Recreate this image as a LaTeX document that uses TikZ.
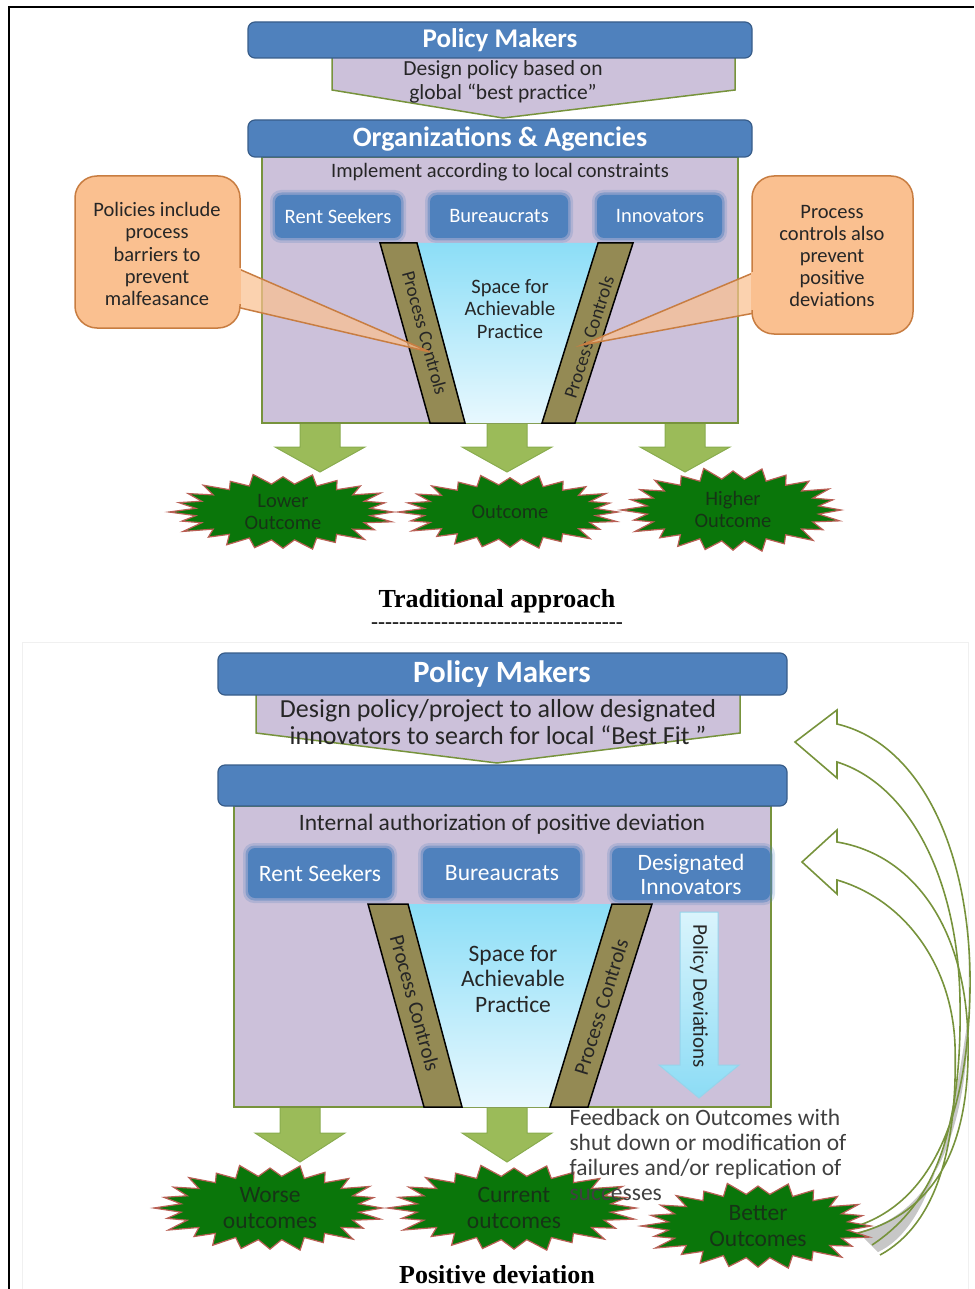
\documentclass[tikz,border=0pt]{standalone}
\usepackage{fontspec}
\setmainfont{Carlito}
\newfontfamily\titlefont{Liberation Serif}
\usetikzlibrary{calc}

\definecolor{barblue}{RGB}{79,129,189}
\definecolor{barline}{RGB}{56,93,138}
\definecolor{lav}{RGB}{204,193,218}
\definecolor{olivegreen}{RGB}{119,147,60}
\definecolor{arrowgreen}{RGB}{155,187,89}
\definecolor{arrowline}{RGB}{137,172,78}
\definecolor{bandolive}{RGB}{148,138,84}
\definecolor{peach}{RGB}{250,192,144}
\definecolor{peachline}{RGB}{200,125,65}
\definecolor{burstgreen}{RGB}{10,118,10}
\definecolor{bursthalo}{RGB}{185,95,85}
\definecolor{bursttext}{RGB}{22,52,22}
\definecolor{txt}{RGB}{38,38,38}
\definecolor{skytop}{RGB}{140,222,247}
\definecolor{skybot}{RGB}{232,248,254}
\definecolor{devtop}{RGB}{218,244,252}
\definecolor{devbot}{RGB}{140,220,245}
\definecolor{devline}{RGB}{150,212,235}

% font size with its own line distance
\newcommand{\fsz}[2]{\fontsize{#1}{#2}\selectfont}

% blurred blue actor box: x1 y1 x2 y2
\newcommand{\softbox}[4]{%
  \fill[barblue, opacity=0.22, rounded corners=11] (#1-5,#2-5) rectangle (#3+5,#4+5);
  \fill[barblue, opacity=0.45, rounded corners=9] (#1-2.5,#2-2.5) rectangle (#3+2.5,#4+2.5);
  \fill[barblue, rounded corners=7] (#1,#2) rectangle (#3,#4);}

% fat green arrow: centre x, top y, head y, tip y
\newcommand{\fatarrow}[4]{%
  \filldraw[garrow] (#1-20,#2) -- (#1-20,#3) -- (#1-45,#3) -- (#1,#4)
    -- (#1+45,#3) -- (#1+20,#3) -- (#1+20,#2) -- cycle;}

% outcome starburst: centre x, centre y, radius x, radius y
\newcommand{\starblob}[4]{%
  \filldraw[burst] ({#1+#3},{#2})
    \foreach \k in {1,...,47}{
      -- ({#1+#3*ifthenelse(mod(\k,2)==0, 1+0.05*sin(\k*77), 0.80)*cos(\k*7.5)},
          {#2+#4*ifthenelse(mod(\k,2)==0, 1+0.05*sin(\k*77), 0.76)*sin(\k*7.5)})
    } -- cycle;}

\tikzset{
  bar/.style={fill=barblue, draw=barline, line width=1.2, rounded corners=7},
  chev/.style={fill=lav, draw=olivegreen, line width=1.5},
  stage/.style={fill=lav, draw=olivegreen, line width=2.5},
  band/.style={fill=bandolive, draw=black, line width=1.5},
  garrow/.style={fill=arrowgreen, draw=arrowline, line width=1},
  burst/.style={fill=burstgreen, draw=bursthalo, line width=1.2},
  callout/.style={fill=peach, draw=peachline, line width=1.5, rounded corners=22},
  wedge/.style={fill=peach, fill opacity=0.72, draw=peachline, line width=1.5},
  bartext/.style={text=white, font=\bfseries},
  label/.style={text=txt, align=center},
  actor/.style={text=white, align=center},
  ctrl/.style={text=black!85},
  bursttxt/.style={text=bursttext, align=center},
  feedarrow/.style={draw=olivegreen, line width=1.6},
}

\begin{document}
\begin{tikzpicture}[x=1pt,y=-1pt]
\useasboundingbox (0,0) rectangle (974,1289);

% page frame
\draw[line width=2.5] (9,1289) -- (9,7) -- (974,7);
% faint frame round the lower panel
\draw[black!6, line width=1] (22,1289) -- (22,642) -- (968,642) -- (968,1289);

%================ Traditional approach ================
\filldraw[chev] (332,58) -- (332,90) -- (503,118) -- (735,90) -- (735,58);
\draw[bar] (248,22) rectangle (752,58);
\node[bartext, font=\bfseries\fsz{27}{30}] (pm1) at (500,40) {Policy Makers};
\node[label, font=\fsz{21.5}{24}] (design1) at (503,82)
  {Design policy based on\\global “best practice”};

\fatarrow{320}{423}{447}{472}
\fatarrow{507}{423}{447}{472}
\fatarrow{685}{423}{447}{472}

\filldraw[stage] (262,157) rectangle (738,423);
\draw[bar] (248,120) rectangle (752,157);
\node[bartext, font=\bfseries\fsz{28}{30}] (org1) at (500,139) {Organizations \& Agencies};
\node[label, font=\fsz{20.5}{22}] (impl1) at (500,172) {Implement according to local constraints};

\softbox{275}{195}{401}{238}
\softbox{430}{195}{568}{238}
\softbox{597}{195}{722}{238}
\node[actor, font=\fsz{20.5}{22}] (rent1) at (338,216) {Rent Seekers};
\node[actor, font=\fsz{20.5}{22}] (bur1) at (499,216) {Bureaucrats};
\node[actor, font=\fsz{20.5}{22}] (inn1) at (660,216) {Innovators};

\shade[top color=skytop, bottom color=skybot] (417,243) -- (598,243) -- (542,423) -- (465,423) -- cycle;
\filldraw[band] (380,243) -- (417,243) -- (465,423) -- (430,423) -- cycle;
\filldraw[band] (598,243) -- (633,243) -- (575,423) -- (542,423) -- cycle;
\node[ctrl, font=\fsz{19}{20}, rotate=-74.7] (pcl1) at (425,333) {Process Controls};
\node[ctrl, font=\fsz{19}{20}, rotate=72.3] (pcr1) at (589,337) {Process Controls};
\node[label, font=\fsz{20.5}{22.5}] (space1) at (510,309)
  {Space for\\Achievable\\Practice};

% callouts
\filldraw[wedge] (232,266) -- (430,352) -- (232,306);
\filldraw[callout] (75,176) rectangle (240,328);
\draw[peach, line width=2.2] (240,268) -- (240,304);
\node[label, font=\fsz{20.5}{22.3}] (note1) at (157,254)
  {Policies include\\process\\barriers to\\prevent\\malfeasance};

\filldraw[wedge] (760,270) -- (582,345) -- (760,312);
\filldraw[callout] (752,176) rectangle (913,334);
\draw[peach, line width=2.2] (752,272) -- (752,310);
\node[label, font=\fsz{20.5}{22}] (note2) at (832,256)
  {Process\\controls also\\prevent\\positive\\deviations};

% outcomes
\starblob{283}{512}{110}{37}
\starblob{510}{512}{108}{36}
\starblob{733}{510}{108}{41}
\node[bursttxt, font=\fsz{20.5}{22}] (low) at (283,512) {Lower\\Outcome};
\node[bursttxt, font=\fsz{20.5}{22}] (mid) at (510,512) {Outcome};
\node[bursttxt, font=\fsz{20.5}{22}] (high) at (733,509) {Higher\\Outcome};

\node[font=\titlefont\bfseries\fsz{26}{28}] (title1) at (497,601) {Traditional approach};
\node[font=\titlefont\fsz{21}{22}] (rule) at (497,626)
  {-{}-{}-{}-{}-{}-{}-{}-{}-{}-{}-{}-{}-{}-{}-{}-{}-{}-{}-{}-{}-{}-{}-{}-{}-{}-{}-{}-{}-{}-{}-{}-{}-{}-{}-{}-};

%================ Positive deviation ================
\filldraw[chev] (256,695) -- (256,733) -- (497,763) -- (740,733) -- (740,695);
\draw[bar] (218,653) rectangle (787,695);
\node[bartext, font=\bfseries\fsz{31}{33}] (pm2) at (502,674) {Policy Makers};
\node[label, font=\fsz{26}{27}] (design2) at (498,722)
  {Design policy/project to allow designated\\innovators to search for local “Best Fit ”};

\fatarrow{300}{1107}{1133}{1162}
\fatarrow{507}{1107}{1133}{1162}

\filldraw[stage] (234,806) rectangle (771,1107);
\draw[bar] (218,765) rectangle (787,806);
\node[label, font=\fsz{23.5}{25}] (auth) at (502,824) {Internal authorization of positive deviation};

\softbox{248}{848}{392}{898}
\softbox{423}{848}{580}{898}
\softbox{612}{848}{770}{900}
\node[actor, font=\fsz{23.5}{24}] (rent2) at (320,873) {Rent Seekers};
\node[actor, font=\fsz{23.5}{24}] (bur2) at (502,873) {Bureaucrats};
\node[actor, font=\fsz{23.5}{24}] (inn2) at (691,874) {Designated\\Innovators};

\shade[top color=skytop, bottom color=skybot] (408,904) -- (612,904) -- (550,1107) -- (462,1107) -- cycle;
\filldraw[band] (368,904) -- (408,904) -- (462,1107) -- (424,1107) -- cycle;
\filldraw[band] (612,904) -- (652,904) -- (588,1107) -- (550,1107) -- cycle;
\node[ctrl, font=\fsz{21}{22}, rotate=-74.8] (pcl2) at (415,1003) {Process Controls};
\node[ctrl, font=\fsz{21}{22}, rotate=72.8] (pcr2) at (601,1007) {Process Controls};
\node[label, font=\fsz{23.5}{25.5}] (space2) at (513,979)
  {Space for\\Achievable\\Practice};

\shade[top color=devtop, bottom color=devbot]
  (680,912) -- (718,912) -- (718,1065) -- (739,1065) -- (699,1098) -- (659,1065) -- (680,1065) -- cycle;
\draw[devline, line width=1]
  (680,912) -- (718,912) -- (718,1065) -- (739,1065) -- (699,1098) -- (659,1065) -- (680,1065) -- cycle;
\node[ctrl, font=\fsz{21}{22}, rotate=-90] (dev) at (699,996) {Policy Deviations};

% feedback loop from better outcomes back to the policy level
\fill[black!22] (969,1010) .. controls (967,1140) and (930,1215) .. (858,1232)
  -- (878,1252) .. controls (925,1230) and (950,1150) .. (969,1010) -- cycle;
\draw[feedarrow] (860,1225) .. controls (930,1200) and (968,1120) .. (970,990)
  .. controls (972,860) and (925,745) .. (837,724)
  -- (837,710) -- (795,742) -- (837,778) -- (837,762)
  .. controls (910,785) and (958,880) .. (960,1000)
  .. controls (962,1120) and (940,1200) .. (872,1245);
\draw[feedarrow] (850,1235) .. controls (940,1215) and (970,1140) .. (968,1040)
  .. controls (966,930) and (915,855) .. (837,842)
  -- (837,830) -- (802,862) -- (837,894) -- (837,880)
  .. controls (905,900) and (952,965) .. (955,1045)
  .. controls (958,1150) and (935,1225) .. (880,1255);

\starblob{270}{1208}{112}{42}
\starblob{514}{1208}{122}{42}
\starblob{758}{1226}{113}{42}
\node[bursttxt, font=\fsz{23.5}{26}] (worse) at (270,1208) {Worse\\outcomes};
\node[bursttxt, font=\fsz{23.5}{26}] (cur) at (514,1208) {Current\\outcomes};
\node[bursttxt, font=\fsz{23.5}{26}] (better) at (758,1226) {Better\\Outcomes};

\node[text=black!75, font=\fsz{23.5}{25}, align=left, anchor=west] (feed) at (566,1155)
  {Feedback on Outcomes with\\shut down or modification of\\failures and/or replication of\\successes};

\node[font=\titlefont\bfseries\fsz{26}{28}] (title2) at (497,1275) {Positive deviation};
\end{tikzpicture}
\end{document}
